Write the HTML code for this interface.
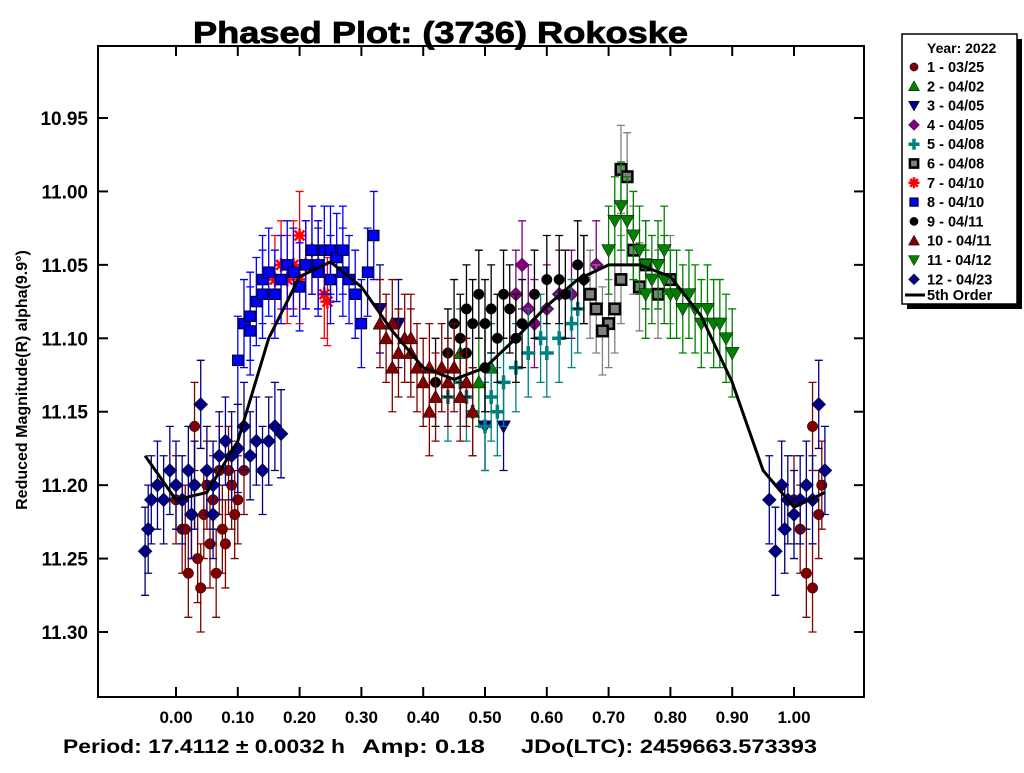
<!DOCTYPE html>
<html><head><meta charset="utf-8"><style>
body{margin:0;background:#fff;font-family:"Liberation Sans",sans-serif}
</style></head><body>
<svg id="c" width="1024" height="768" xmlns="http://www.w3.org/2000/svg" font-family="Liberation Sans, sans-serif">
<rect x="0" y="0" width="1024" height="768" fill="#fff"/>
<text x="193" y="43" font-size="31" font-weight="bold" textLength="495" lengthAdjust="spacingAndGlyphs" stroke="#000" stroke-width="0.8">Phased Plot: (3736) Rokoske</text>
<g font-size="19" font-weight="bold">
<text x="63" y="753" textLength="282" lengthAdjust="spacingAndGlyphs">Period: 17.4112 ± 0.0032 h</text>
<text x="362" y="753" textLength="123" lengthAdjust="spacingAndGlyphs">Amp: 0.18</text>
<text x="521" y="753" textLength="296" lengthAdjust="spacingAndGlyphs">JDo(LTC): 2459663.573393</text>
</g>
<text transform="translate(27,380) rotate(-90)" font-size="16" font-weight="bold" text-anchor="middle">Reduced Magnitude(R) alpha(9.9°)</text>
<g id="marks"></g>
<rect x="98" y="46" width="766" height="651" fill="none" stroke="#000" stroke-width="2"/>
<g id="ticks"></g>
<g>
<rect x="907" y="39" width="115" height="270" fill="#000"/>
<rect x="902" y="34" width="115" height="270" fill="#fff" stroke="#000" stroke-width="1.5"/>
<g id="leg"></g>
</g>
</svg>
<script>
const xTicks=[0,0.1,0.2,0.3,0.4,0.5,0.6,0.7,0.8,0.9,1.0];
const yTicks=[10.95,11.00,11.05,11.10,11.15,11.20,11.25,11.30];
const seriesNames=["1 - 03/25","2 - 04/02","3 - 04/05","4 - 04/05","5 - 04/08","6 - 04/08","7 - 04/10","8 - 04/10","9 - 04/11","10 - 04/11","11 - 04/12","12 - 04/23"];
const seriesColors=["#800000","#008000","#000080","#800080","#008080","#808080","#ff0000","#0000ff","#000000","#800000","#008000","#000080"];
const seriesShapes=["circle","tri","dtri","diamond","plus","square","star","square","circle","tri","dtri","diamond"];
const s1=[[0.00,11.21],[0.01,11.23],[0.02,11.26],[0.025,11.22],[0.03,11.20],[0.04,11.27],[0.045,11.22],[0.05,11.20],[0.055,11.24],[0.06,11.21],[0.065,11.26],[0.07,11.19],[0.075,11.23],[0.08,11.24],[0.085,11.19],[0.09,11.20],[0.095,11.22],[0.10,11.21],[0.11,11.19],[0.03,11.16],[0.015,11.23],[0.035,11.25],[1.00,11.21],[1.01,11.23],[1.02,11.26],[1.03,11.27],[1.04,11.22],[1.045,11.20],[1.03,11.16]];
const s2=[[0.46,11.11],[0.49,11.13],[0.51,11.12]];
const s3=[[0.50,11.16],[0.53,11.16],[0.33,11.08],[0.36,11.09]];
const s4=[[0.56,11.05],[0.57,11.08],[0.58,11.09],[0.62,11.07],[0.64,11.07],[0.66,11.06],[0.55,11.07],[0.60,11.08],[0.68,11.05]];
const s5=[[0.44,11.14],[0.46,11.13],[0.48,11.15],[0.50,11.16],[0.52,11.15],[0.53,11.13],[0.55,11.12],[0.57,11.11],[0.59,11.10],[0.60,11.11],[0.62,11.10],[0.64,11.09],[0.65,11.08],[0.47,11.14],[0.51,11.14]];
const s6=[[0.72,10.985],[0.73,10.99],[0.74,11.04],[0.70,11.09],[0.68,11.08],[0.69,11.095],[0.71,11.08],[0.72,11.06],[0.75,11.065],[0.78,11.07],[0.80,11.06],[0.76,11.05],[0.67,11.07]];
const s7=[[0.16,11.06],[0.17,11.05],[0.18,11.06],[0.19,11.05],[0.20,11.06],[0.21,11.05],[0.22,11.04],[0.23,11.05],[0.24,11.07],[0.245,11.075],[0.20,11.03]];
const s8=[[0.10,11.115],[0.11,11.09],[0.12,11.085],[0.13,11.075],[0.14,11.06],[0.15,11.055],[0.16,11.07],[0.17,11.06],[0.18,11.05],[0.19,11.055],[0.20,11.065],[0.21,11.05],[0.22,11.04],[0.23,11.05],[0.24,11.04],[0.25,11.04],[0.26,11.045],[0.27,11.055],[0.28,11.06],[0.29,11.07],[0.30,11.09],[0.31,11.055],[0.32,11.03],[0.25,11.06],[0.23,11.055],[0.27,11.04],[0.12,11.095],[0.14,11.07]];
const s9=[[0.44,11.11],[0.45,11.09],[0.46,11.10],[0.47,11.08],[0.48,11.09],[0.49,11.07],[0.50,11.09],[0.51,11.08],[0.52,11.10],[0.53,11.07],[0.54,11.08],[0.55,11.10],[0.56,11.09],[0.58,11.07],[0.60,11.06],[0.62,11.06],[0.63,11.07],[0.65,11.05],[0.66,11.06],[0.47,11.11],[0.50,11.12],[0.42,11.13]];
const s10=[[0.33,11.09],[0.34,11.10],[0.35,11.09],[0.36,11.11],[0.37,11.10],[0.38,11.11],[0.39,11.12],[0.40,11.13],[0.41,11.12],[0.42,11.14],[0.43,11.12],[0.44,11.13],[0.45,11.12],[0.46,11.14],[0.47,11.13],[0.35,11.12],[0.38,11.10],[0.41,11.15],[0.48,11.15]];
const s11=[[0.72,11.01],[0.73,11.02],[0.74,11.03],[0.75,11.04],[0.76,11.05],[0.77,11.06],[0.78,11.05],[0.79,11.06],[0.80,11.07],[0.81,11.07],[0.82,11.08],[0.83,11.07],[0.84,11.08],[0.85,11.09],[0.86,11.08],[0.87,11.09],[0.88,11.09],[0.89,11.10],[0.90,11.11],[0.70,11.04],[0.71,11.02],[0.76,11.07],[0.79,11.04]];
const s12=[[-0.05,11.245],[-0.04,11.21],[-0.03,11.20],[-0.02,11.21],[-0.01,11.19],[0.00,11.20],[0.01,11.21],[0.02,11.19],[0.03,11.20],[0.04,11.145],[0.05,11.19],[0.06,11.20],[0.07,11.18],[0.08,11.17],[0.09,11.18],[0.10,11.175],[0.11,11.16],[0.12,11.18],[0.13,11.17],[0.14,11.19],[0.15,11.17],[0.16,11.16],[0.17,11.165],[-0.045,11.23],[0.025,11.22],[0.06,11.22],[0.96,11.21],[0.97,11.245],[0.98,11.20],[0.99,11.21],[1.00,11.22],[1.01,11.21],[1.02,11.20],[1.03,11.21],[1.04,11.145],[1.05,11.19],[0.985,11.23]];
const fitPhase=[-0.05,0,0.05,0.1,0.15,0.2,0.25,0.3,0.35,0.4,0.45,0.5,0.55,0.6,0.65,0.7,0.75,0.8,0.85,0.9,0.95,1.0,1.05];
const fitMag=[11.18,11.21,11.205,11.17,11.10,11.058,11.048,11.065,11.095,11.12,11.128,11.12,11.10,11.078,11.06,11.05,11.05,11.058,11.085,11.13,11.19,11.215,11.205];
const allSeries=[s1,s2,s3,s4,s5,s6,s7,s8,s9,s10,s11,s12];
const X=p=>176+p*618, Y=m=>118+(m-10.95)*1468.6;
const NS="http://www.w3.org/2000/svg";
function mk(t,a,parent){const e=document.createElementNS(NS,t);for(const k in a)e.setAttribute(k,a[k]);parent.appendChild(e);return e;}
function marker(g,shape,x,y,col,s){
 let e;
 if(shape==="circle")e=mk("circle",{cx:x,cy:y,r:s*0.75,fill:col,stroke:"#000","stroke-width":0.5},g);
 else if(shape==="square")e=mk("rect",{x:x-s*0.75,y:y-s*0.75,width:s*1.5,height:s*1.5,fill:col,stroke:"#000","stroke-width":col==="#808080"?2.5:1},g);
 else if(shape==="tri")e=mk("polygon",{points:`${x},${y-s} ${x-s},${y+s*0.8} ${x+s},${y+s*0.8}`,fill:col,stroke:"#000","stroke-width":0.5},g);
 else if(shape==="dtri")e=mk("polygon",{points:`${x},${y+s} ${x-s},${y-s*0.8} ${x+s},${y-s*0.8}`,fill:col,stroke:"#000","stroke-width":0.5},g);
 else if(shape==="diamond")e=mk("polygon",{points:`${x},${y-s} ${x+s},${y} ${x},${y+s} ${x-s},${y}`,fill:col,stroke:"#000","stroke-width":0.5},g);
 else if(shape==="plus")e=mk("path",{d:`M${x-s} ${y}H${x+s}M${x} ${y-s}V${y+s}`,stroke:col,"stroke-width":3.5},g);
 else e=mk("path",{d:`M${x-s} ${y}H${x+s}M${x} ${y-s}V${y+s}M${x-s*0.7} ${y-s*0.7}L${x+s*0.7} ${y+s*0.7}M${x-s*0.7} ${y+s*0.7}L${x+s*0.7} ${y-s*0.7}`,stroke:col,"stroke-width":2.5},g);
 return e;
}
const marks=document.getElementById("marks");
allSeries.forEach((ser,i)=>{
 const g=mk("g",{},marks);
 
 
 ser.forEach(([p,m])=>{
  const x=X(p),y=Y(m),err=0.03*1468.6;
  mk("path",{d:`M${x} ${y-err}V${y+err}M${x-4} ${y-err}H${x+4}M${x-4} ${y+err}H${x+4}`,stroke:seriesColors[i],"stroke-width":1.3},g);
 });
 ser.forEach(([p,m])=>{
  const pt=marker(g,seriesShapes[i],X(p),Y(m),seriesColors[i],7);
  
  
 });
});
const fit=mk("polyline",{points:fitPhase.map((p,i)=>X(p)+","+Y(fitMag[i])).join(" "),fill:"none",stroke:"#000","stroke-width":3},marks);


const tk=document.getElementById("ticks");
xTicks.forEach(v=>{
 const x=X(v);
 mk("line",{x1:x,y1:697,x2:x,y2:687,stroke:"#000","stroke-width":2},tk);
 mk("line",{x1:x,y1:46,x2:x,y2:56,stroke:"#000","stroke-width":2},tk);
 const t=mk("text",{x:x,y:723,"font-size":17,"font-weight":"bold","text-anchor":"middle"},tk);
 t.textContent=v.toFixed(2);
 
 
});
yTicks.forEach(v=>{
 const y=Y(v);
 mk("line",{x1:98,y1:y,x2:108,y2:y,stroke:"#000","stroke-width":2},tk);
 mk("line",{x1:864,y1:y,x2:854,y2:y,stroke:"#000","stroke-width":2},tk);
 const t=mk("text",{x:88,y:y+7,"font-size":19,"font-weight":"bold","text-anchor":"end"},tk);
 t.textContent=v.toFixed(2);
 
 
});
const lg=document.getElementById("leg");
let t0=mk("text",{x:927,y:53,"font-size":14,"font-weight":"bold"},lg);t0.textContent="Year: 2022";
seriesNames.forEach((n,i)=>{
 const y=67+i*19.3;
 marker(lg,seriesShapes[i],914,y,seriesColors[i],5.5);
 const t=mk("text",{x:927,y:y+5,"font-size":14.5,"font-weight":"bold"},lg);
 t.textContent=n;
 
 
});
mk("line",{x1:905,y1:295,x2:925,y2:295,stroke:"#000","stroke-width":3},lg);
let tf=mk("text",{x:927,y:300,"font-size":14.5,"font-weight":"bold"},lg);tf.textContent="5th Order";
</script>
</body></html>
